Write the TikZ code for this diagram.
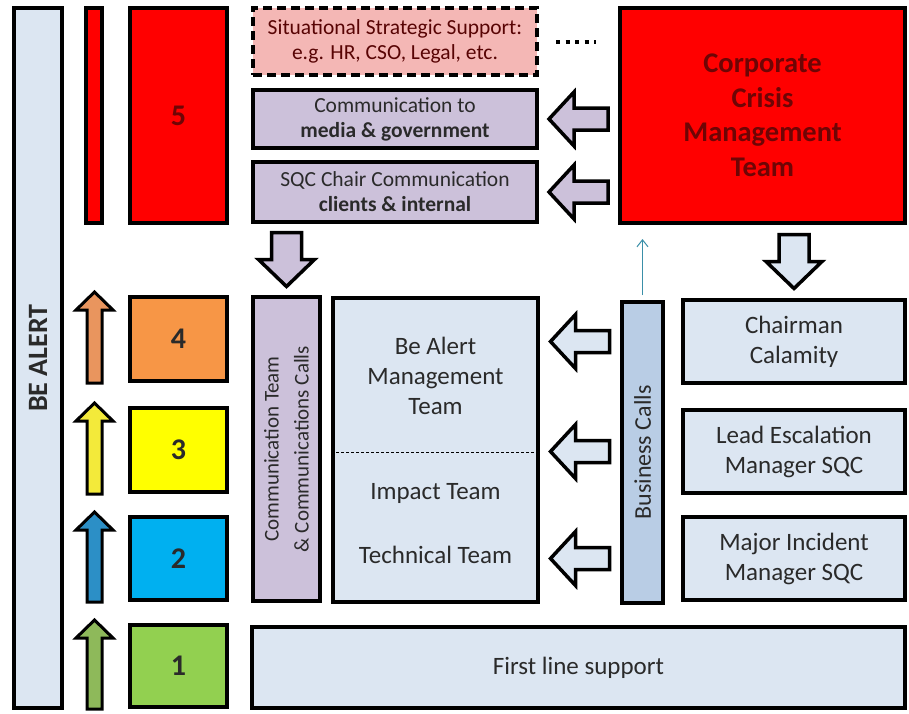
\documentclass[tikz,border=0pt]{standalone}
\usepackage{fontspec}
\setmainfont{Carlito}
\usetikzlibrary{calc,arrows.meta}

\definecolor{paleblue}{HTML}{DCE6F2}
\definecolor{lavender}{HTML}{CCC1DA}
\definecolor{bizblue}{HTML}{B9CDE5}
\definecolor{pinkbox}{HTML}{F4B7B5}
\definecolor{lvorange}{HTML}{F79646}
\definecolor{lvyellow}{HTML}{FFFF00}
\definecolor{lvblue}{HTML}{00B0F0}
\definecolor{lvgreen}{HTML}{92D050}
\definecolor{arrorange}{HTML}{E9955E}
\definecolor{arryellow}{HTML}{F3EA3A}
\definecolor{arrblue}{HTML}{2C8FC6}
\definecolor{arrgreen}{HTML}{8EB95A}
\definecolor{txtgrey}{HTML}{2A2A2A}
\definecolor{darkred}{HTML}{6E0505}
\definecolor{teal}{HTML}{3A8FA8}

\newcommand\bigtxt{\fontsize{25}{30}\selectfont}
\newcommand\smalltxt{\fontsize{21.5}{25}\selectfont}
\newcommand\numtxt{\fontsize{30}{30}\selectfont\bfseries}

\tikzset{
  leftblock/.pic={\draw[line width=3.5pt,line join=miter,pic actions]
    (-29.5,0) -- (-4.5,-27) -- (-4.5,-11) -- (29.5,-11) -- (29.5,11)
    -- (-4.5,11) -- (-4.5,27) -- cycle;},
  downblock/.pic={\draw[line width=3.5pt,line join=miter,pic actions]
    (-15,-27) -- (15,-27) -- (15,0) -- (28,0) -- (0,27) -- (-28,0)
    -- (-15,0) -- cycle;}
}

\begin{document}
\begin{tikzpicture}
  [x=1pt,y=-1pt,
   box/.style={draw=black,line width=4pt,fill=paleblue,inner sep=0pt,
     align=center,text=txtgrey,font=\bigtxt},
   sz/.style 2 args={minimum width=#1pt,minimum height=#2pt},
   level/.style={box,font=\numtxt},
   smallarr/.style={draw=black,line width=3pt,line join=miter},
   dotline/.style={line width=4pt,dash pattern=on 4pt off 5.5pt},
   thinarr/.style={draw=teal,line width=1pt,-{Straight Barb[length=7pt,width=11pt]}}]
\useasboundingbox (0,0) rectangle (909,713);
\fill[white] (0,0) rectangle (909,713);

% left column
\node[box,rotate=90,sz={700}{48},font=\fontsize{28}{30}\selectfont\bfseries] (bealert) at (38,358) {BE ALERT};
\node[box,fill=red,sz={16}{215}] (redbar) at (94,115.5) {};
\node[level,fill=red,text=darkred,sz={97}{215}] (l5) at (178.5,115.5) {5};
\node[level,fill=lvorange,sz={97}{84}] (l4) at (178.5,339) {4};
\node[level,fill=lvyellow,sz={97}{84}] (l3) at (178.5,450) {3};
\node[level,fill=lvblue,sz={97}{83}] (l2) at (178.5,558.5) {2};
\node[level,fill=lvgreen,sz={97}{82}] (l1) at (178.5,666) {1};

\foreach \n/\c in {l4/arrorange,l3/arryellow,l2/arrblue,l1/arrgreen}
  \draw[smallarr,fill=\c] ($(\n.south west)+(-26,0)$) -- ($(\n.north west)+(-26,15)$)
    -- ($(\n.north west)+(-15,15)$) -- ($(\n.north west)+(-33.5,-3)$)
    -- ($(\n.north west)+(-52,15)$) -- ($(\n.north west)+(-41,15)$)
    -- ($(\n.south west)+(-41,0)$) -- cycle;

% top
\node[box,fill=pinkbox,dash pattern=on 9pt off 5pt,text=darkred!80!black,font=\smalltxt,sz={284}{67}] (sit) at (395,41.5)
  {Situational Strategic Support:\\e.g. HR, CSO, Legal, etc.};
\node[box,fill=lavender,font=\smalltxt,sz={284}{58}] (media) at (395,119)
  {Communication to\\\textbf{media \& government}};
\node[box,fill=lavender,font=\smalltxt,sz={284}{60}] (sqc) at (395,192)
  {SQC Chair Communication\\\textbf{clients \& internal}};
\node[box,fill=red,text=darkred,font=\fontsize{28.5}{34.5}\selectfont\bfseries,sz={285}{215}] (corp) at (762.5,115.5)
  {Corporate\\Crisis\\Management\\Team};

\draw[dotline] (sit.east) -- (sit.east -| corp.west)
  [shorten <=17pt,shorten >=22pt];
\pic[fill=lavender] at ($(media.east)!0.5!(media.east -| corp.west)$) {leftblock};
\pic[fill=lavender] at ($(sqc.east)!0.5!(sqc.east -| corp.west)$) {leftblock};

% middle
\node[box,fill=lavender,rotate=90,sz={304}{67},font=\fontsize{21}{30}\selectfont] (comm) at (286.5,449)
  {Communication Team\\\& Communications Calls};
\node[box,sz={205}{304}] (bam) at (435.5,450) {};
\node[text=txtgrey,align=center,font=\bigtxt] (bamtop) at (bam.north |- 0,376)
  {Be Alert\\Management\\Team};
\node[text=txtgrey,font=\bigtxt] (impact) at (bam.north |- 0,493) {Impact Team};
\node[text=txtgrey,font=\bigtxt] (technical) at (bam.north |- 0,555) {Technical Team};
\draw[line width=0.8pt,dash pattern=on 3pt off 2pt] (bam.west |- 0,452) -- (bam.east |- 0,452);

\node[box,fill=bizblue,rotate=90,sz={301}{41},font=\fontsize{24}{30}\selectfont] (biz) at (642.5,452.5) {Business Calls};
\node[box,sz={222}{83}] (chair) at (794,341.5) {Chairman\\Calamity};
\node[box,sz={222}{83}] (lead) at (794,451.5) {Lead Escalation\\Manager SQC};
\node[box,sz={222}{83}] (major) at (794,558.5) {Major Incident\\Manager SQC};
\node[box,sz={653}{81}] (first) at (578.5,667.5) {First line support};

\pic[fill=lavender] at ($(sqc.south -| comm.east)!0.5!(comm.east)$) {downblock};
\pic[fill=paleblue] at ($(corp.south -| chair.north)!0.5!(chair.north)$) {downblock};
\foreach \r in {chair,lead,major}
  \pic[fill=paleblue] at ($(bam.east |- \r.west)!0.5!(biz.north |- \r.west)$) {leftblock};

\draw[thinarr] (biz.east) -- (biz.east |- corp.south)
  [shorten <=5pt,shorten >=14pt];
\end{tikzpicture}
\end{document}
